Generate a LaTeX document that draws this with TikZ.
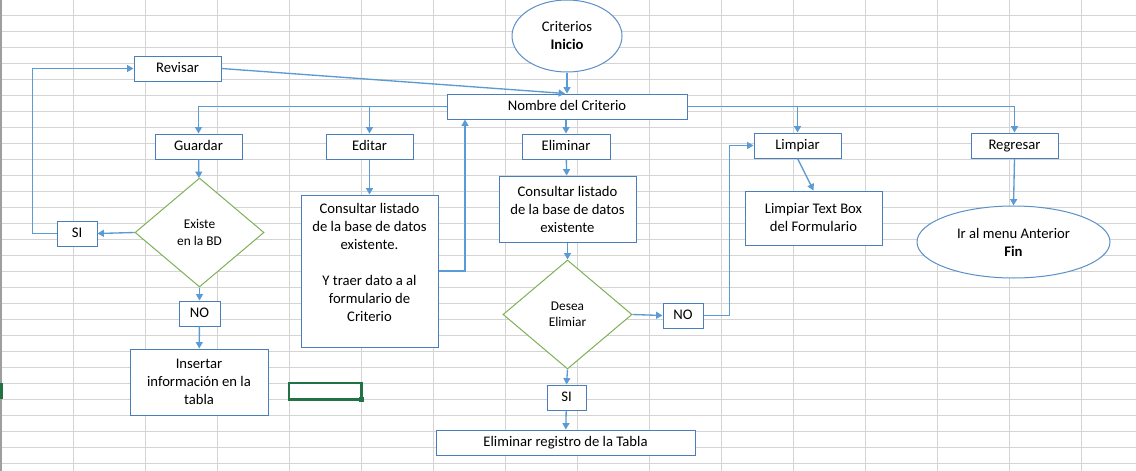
\documentclass[tikz,border=0pt]{standalone}
\usepackage{fontspec}
\setmainfont{Carlito}
\usetikzlibrary{shapes.geometric,arrows.meta}
\definecolor{gridc}{HTML}{D4D4D4}
\definecolor{edgec}{HTML}{9E9E9E}
\definecolor{boxc}{HTML}{4A7EBB}
\definecolor{ellc}{HTML}{5B8FC7}
\definecolor{arrowc}{HTML}{5B9BD5}
\definecolor{diamc}{HTML}{7DB158}
\definecolor{selc}{HTML}{217346}
\newcommand\mainfs{\fontsize{11}{13.5}\selectfont}
\newcommand\smallfs{\fontsize{10}{12.3}\selectfont}
\tikzset{
  sz/.style 2 args={minimum width=#1*0.75pt, minimum height=#2*0.75pt},
  box/.style={draw=boxc, line width=0.75pt, fill=white, rectangle, inner sep=0pt, align=center, font=\mainfs, text=black},
  oneline/.style={text height=7.6pt, text depth=1.6pt},
  oval/.style={draw=ellc, line width=0.75pt, fill=white, ellipse, inner sep=0pt, align=center, font=\mainfs, text=black},
  decision/.style={draw=diamc, line width=0.75pt, fill=white, diamond, inner sep=0pt, align=center, font=\smallfs, text=black},
  arr/.style={draw=arrowc, line width=1pt, -{Triangle[length=4.8pt,width=5.2pt]}},
}
\begin{document}
\begin{tikzpicture}[x=0.75pt, y=-0.75pt]
\useasboundingbox (0,0) rectangle (1136,471);
\fill[white] (0,0) rectangle (1136,471);
% spreadsheet grid
\foreach \k in {1,...,15} \draw[gridc, line width=0.75pt] ({1+72*\k},0) -- ({1+72*\k},471);
\foreach \k in {0,...,28} \draw[gridc, line width=0.75pt] (0,{15+16*\k}) -- (1136,{15+16*\k});
\draw[edgec, line width=1pt] (1,0) -- (1,471);
\fill[selc] (0,383) rectangle (2.5,399);
% selected cell
\draw[selc, line width=1.6pt] (289,383) rectangle (361.5,399.5);
\fill[selc] (358.5,396.5) rectangle (363.5,401.5);

% nodes
\node[oval, sz={110}{72}] (ini) at (567,36) {Criterios\\\textbf{Inicio}};
\node[box, oneline, sz={240}{25}] (nom) at (567,106.5) {Nombre del Criterio};
\node[box, oneline, sz={87}{25}] (rev) at (177.5,68.5) {Revisar};
\node[box, oneline, sz={87}{25}] (gua) at (198.5,146.5) {Guardar};
\node[box, oneline, sz={87}{25}] (edi) at (369.5,146.5) {Editar};
\node[box, oneline, sz={88}{25}] (eli) at (566,146.5) {Eliminar};
\node[box, oneline, sz={87}{25}] (lim) at (797.5,145.5) {Limpiar};
\node[box, oneline, sz={87}{25}] (reg) at (1014.5,145.5) {Regresar};
\node[decision, sz={129}{109}] (d1) at (199.5,232.5) {Existe\\en la BD};
\node[box, oneline, sz={40}{25}] (si1) at (77,233.5) {SI};
\node[box, oneline, sz={41}{25}] (no1) at (199.5,313.5) {NO};
\node[box, sz={138}{66}] (ins) at (199,382) {Insertar\\información en la\\tabla};
\node[box, sz={137}{152}] (con1) at (369.5,271) {Consultar listado\\de la base de datos\\existente.\\[13.5pt]Y traer dato a al\\formulario de\\Criterio\\\mbox{}};
\node[box, sz={137}{66}] (con2) at (567.5,209) {Consultar listado\\de la base de datos\\existente};
\node[decision, sz={129}{109}] (d2) at (567.5,314.5) {Desea\\Elimiar};
\node[box, oneline, sz={40}{25}] (no2) at (683,315.5) {NO};
\node[box, oneline, sz={39}{25}] (si2) at (566.5,397.5) {SI};
\node[box, oneline, sz={259}{25}] (elr) at (565.5,442.5) {Eliminar registro de la Tabla};
\node[box, sz={137}{54}] (lt) at (813.5,218) {Limpiar Text Box\\del Formulario};
\node[oval, sz={193}{72}] (fin) at (1013.5,242) {Ir al menu Anterior\\\textbf{Fin}};

% connectors
\draw[arr] (ini) -- (nom);
\draw[arr] (rev.east) -- ([xshift=-1.5pt]nom.north);
\draw[arr] (nom.west) -| (gua.north);
\draw[arr] (edi.north |- nom.west) -- (edi.north);
\draw[arr] (nom.east) -| (reg.north);
\draw[arr] (lim.north |- nom.east) -- (lim.north);
\draw[arr] (nom.south -| eli.north) -- (eli.north);
\draw[arr] (gua) -- (d1);
\draw[arr] (d1.west) -- (si1.east);
\draw[arr] (si1.west) -- ++(-24,0) |- (rev.west);
\draw[arr] (d1.south) -- (no1.north);
\draw[arr] (no1) -- (ins);
\draw[arr] (edi) -- (con1);
\draw[arr] (con1.east) -| ([xshift=-76.5pt]nom.south);
\draw[arr] (eli) -- (con2);
\draw[arr] (con2) -- (d2);
\draw[arr] (d2.east) -- (no2.west);
\draw[arr] (no2.east) -- ++(26,0) |- (lim.west);
\draw[arr] (d2.south) -- (si2.north);
\draw[arr] (si2) -- (elr);
\draw[arr] (lim.south) -- (lt.north);
\draw[arr] (reg.south) -- (fin.north);
\end{tikzpicture}
\end{document}
